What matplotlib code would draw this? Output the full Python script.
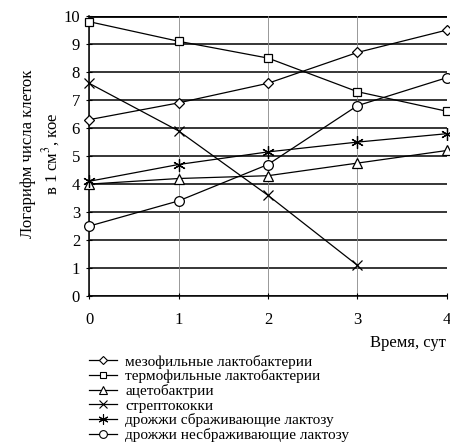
import matplotlib
matplotlib.use("Agg")
import matplotlib.pyplot as plt
from matplotlib.lines import Line2D

plt.rcParams['font.family'] = ['Liberation Serif', 'DejaVu Serif']
plt.rcParams['mathtext.fontset'] = 'stix'

days = [0, 1, 2, 3, 4]
meso = [6.3, 6.9, 7.6, 8.7, 9.5]
thermo = [9.8, 9.1, 8.5, 7.3, 6.6]
aceto = [4.0, 4.2, 4.3, 4.75, 5.2]
strepto_days = [0, 1, 2, 3]
strepto = [7.6, 5.9, 3.6, 1.1]
yeast_ferm = [4.1, 4.7, 5.15, 5.5, 5.8]
yeast_nonferm = [2.5, 3.4, 4.7, 6.8, 7.8]

labels = ["мезофильные лактобактерии", "термофильные лактобактерии", "ацетобактрии",
          "стрептококки", "дрожжи сбраживающие лактозу", "дрожжи несбраживающие лактозу"]
yticks = list(range(0, 11))

fig = plt.figure(figsize=(4.5, 4.46), dpi=100)
ax = fig.add_axes([0.198, 0.336, 0.795, 0.628])

for y in yticks:
    ax.axhline(y, color='black', lw=1.1 if y < 10 else 2.0, zorder=1)
for x in days:
    ax.axvline(x, color='#888888', lw=0.6, zorder=1)

series = [
    (days, meso, 'D', 5.5),
    (days, thermo, 's', 5.5),
    (days, aceto, '^', 7),
    (strepto_days, strepto, 'x', 7),
    (days, yeast_ferm, (6, 2, 0), 9),
    (days, yeast_nonferm, 'o', 7),
]
handles = []
for (xs, ys, m, ms), lab in zip(series, labels):
    ax.plot(xs, ys, color='black', lw=0.9, marker=m, ms=ms, mfc='white', mec='black',
            mew=0.9, zorder=3, clip_on=False)
    handles.append(Line2D([], [], color='black', lw=0.9, marker=m, ms=ms * 0.8,
                          mfc='white', mec='black', mew=0.8, label=lab))

ax.set_xlim(0, 4)
ax.set_ylim(0, 10)
ax.set_xticks(days)
ax.set_yticks(yticks)
for s in ['top', 'right']:
    ax.spines[s].set_visible(False)
ax.spines['left'].set_linewidth(1.1)
ax.spines['bottom'].set_linewidth(1.1)
ax.tick_params(axis='both', direction='inout', length=5, width=0.8, labelsize=12)
ax.tick_params(axis='x', pad=9)
ax.tick_params(axis='y', pad=4)

fig.text(0.092, 0.655, "Логарифм числа клеток\nв 1 см$^3$, кое", rotation=90,
         ha='center', va='center', multialignment='center', fontsize=12,
         linespacing=1.25)
fig.text(0.99, 0.23, "Время, сут", ha='right', va='center', fontsize=12)

fig.legend(handles=handles, loc='upper left', bbox_to_anchor=(0.198, 0.205),
           frameon=False, fontsize=11, handlelength=1.8, handletextpad=0.55,
           labelspacing=0.05, borderpad=0, borderaxespad=0)

fig.savefig("out.png", dpi=100)
